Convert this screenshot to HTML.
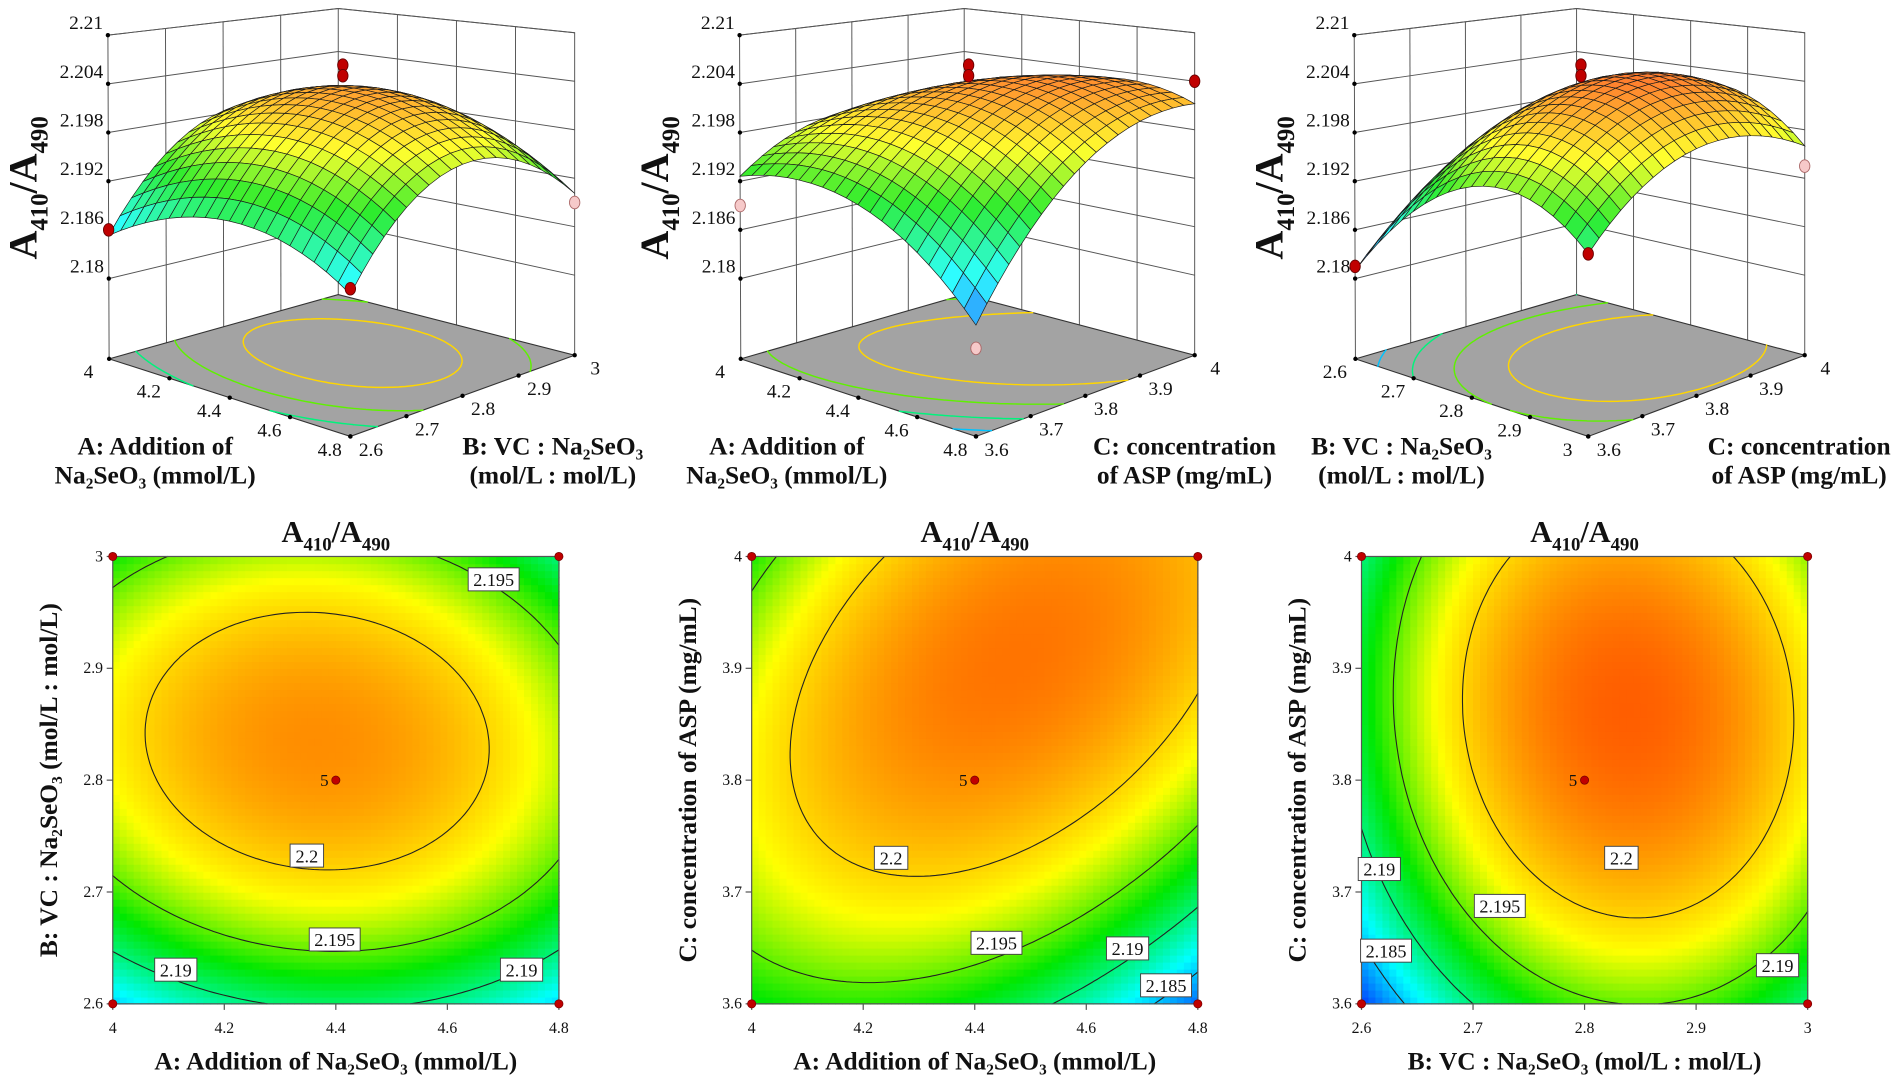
<!DOCTYPE html>
<html><head><meta charset="utf-8"><title>Response surface plots</title>
<style>
html,body{margin:0;padding:0;background:#fff;}
svg{display:block;font-family:"Liberation Serif",serif;}
</style></head>
<body>
<svg id="fig" xmlns="http://www.w3.org/2000/svg" width="1901" height="1083" viewBox="0 0 1568 893.3" preserveAspectRatio="none"></svg>
<script>
// ---------- data ----------
const ticksA = [4, 4.2, 4.4, 4.6, 4.8];
const ticksB = [2.6, 2.7, 2.8, 2.9, 3];
const ticksC = [3.6, 3.7, 3.8, 3.9, 4];
const ticksZ = [2.18, 2.186, 2.192, 2.198, 2.204, 2.21];
// quadratic model coefficients (coded units): b0, b1, b2, b12, b11, b22
const coefAB = [2.2027, -0.0007, 0.0031, -0.00084, -0.00506, -0.00908];
const coefAC = [2.2028, -0.00067, 0.00498, 0.00452, -0.005, -0.0054];
const coefBC = [2.204, 0.00375, 0.00375, -0.00075, -0.009, -0.00575];
const levelsAB = [2.19, 2.195, 2.2];
const levelsAC = [2.185, 2.19, 2.195, 2.2];
const levelsBC = [2.185, 2.19, 2.195, 2.2];
// contour labels: [x value, y value, level text]
const labelsAB = [[4.683, 2.979, "2.195"], [4.348, 2.732, "2.2"], [4.398, 2.657, "2.195"], [4.113, 2.63, "2.19"], [4.733, 2.63, "2.19"]];
const labelsAC = [[4.25, 3.73, "2.2"], [4.439, 3.654, "2.195"], [4.674, 3.649, "2.19"], [4.743, 3.616, "2.185"]];
const labelsBC = [[2.833, 3.73, "2.2"], [2.724, 3.687, "2.195"], [2.616, 3.72, "2.19"], [2.622, 3.647, "2.185"], [2.973, 3.634, "2.19"]];
// 3D design points: [x, y, response, pink?]
const pointsAB = [[4.4, 2.8, 2.2065, 0], [4.4, 2.8, 2.2052, 0], [4, 2.6, 2.186, 0], [4.8, 2.6, 2.1862, 0], [4.8, 3, 2.189, 1]];
const pointsAC = [[4.4, 3.8, 2.2065, 0], [4.4, 3.8, 2.2052, 0], [4, 3.6, 2.189, 1], [4.8, 4, 2.204, 0], [4.8, 3.6, 2.1797, 1]];
const pointsBC = [[2.8, 3.8, 2.2065, 0], [2.8, 3.8, 2.2052, 0], [2.6, 3.6, 2.1815, 0], [3, 3.6, 2.190, 0], [3, 4, 2.1935, 1]];

const NS = "http://www.w3.org/2000/svg";
const svg = document.getElementById("fig");
function mk(tag, attrs, parent) {
  const e = document.createElementNS(NS, tag);
  for (const k in attrs) e.setAttribute(k, attrs[k]);
  (parent || svg).appendChild(e);
  return e;
}
function model(c, u, v) { const x = 2 * u - 1, y = 2 * v - 1; return c[0] + c[1] * x + c[2] * y + c[3] * x * y + c[4] * x * x + c[5] * y * y; }
const cLo = 2.181, cHi = 2.2072;
function cmapRGB(val) {
  let t = (val - cLo) / (cHi - cLo); t = Math.max(0, Math.min(1, t));
  const st = [[0, 0, 60, 255], [0.22, 0, 255, 255], [0.46, 0, 232, 0], [0.66, 255, 255, 0], [1, 255, 40, 0]];
  for (let i = 0; i < st.length - 1; i++) {
    if (t <= st[i + 1][0]) {
      const f = (t - st[i][0]) / (st[i + 1][0] - st[i][0]);
      return [st[i][1] + f * (st[i + 1][1] - st[i][1]), st[i][2] + f * (st[i + 1][2] - st[i][2]), st[i][3] + f * (st[i + 1][3] - st[i][3])];
    }
  }
  return [255, 40, 0];
}
function cmap(val) { const c = cmapRGB(val); return "rgb(" + c.map(Math.round).join(",") + ")"; }
function cmapLight(val) { const c = cmapRGB(val); return "rgb(" + c.map(x => Math.round(x * 0.82 + 255 * 0.18)).join(",") + ")"; }
function march(c, level0, N) {
  const level = level0 + 1e-9;
  const segs = [];
  const val = (i, j) => model(c, i / N, j / N);
  for (let i = 0; i < N; i++) for (let j = 0; j < N; j++) {
    const cs = [[i, j], [i + 1, j], [i + 1, j + 1], [i, j + 1]];
    const vs = cs.map(p => val(p[0], p[1]));
    const pts = [];
    for (let k = 0; k < 4; k++) {
      const a = vs[k], b = vs[(k + 1) % 4];
      if ((a - level) * (b - level) < 0) {
        const f = (level - a) / (b - a);
        const p = cs[k], q = cs[(k + 1) % 4];
        pts.push([(p[0] + f * (q[0] - p[0])) / N, (p[1] + f * (q[1] - p[1])) / N]);
      }
    }
    if (pts.length >= 2) segs.push([pts[0], pts[1]]);
    if (pts.length === 4) segs.push([pts[2], pts[3]]);
  }
  return segs;
}
function norm(v, ticks) { return (v - ticks[0]) / (ticks[ticks.length - 1] - ticks[0]); }
function textEl(x, y, str, size, anchor, weight, parent) {
  const t = mk("text", { x: x, y: y, "font-size": size, "text-anchor": anchor || "middle", "font-weight": weight || "normal", fill: "#111" }, parent);
  t.textContent = str;
  return t;
}
function ratioTitle(x, y, size, rotate, parent) {
  const t = mk("text", { x: x, y: y, "font-size": size, "text-anchor": "middle", "font-weight": "bold", fill: "#111" }, parent);
  if (rotate) t.setAttribute("transform", "rotate(-90 " + x + " " + y + ")");
  t.appendChild(document.createTextNode("A"));
  const s1 = mk("tspan", { "font-size": size * 0.62, dy: size * 0.28 }, t); s1.textContent = "410";
  const s2 = mk("tspan", { dy: -size * 0.28 }, t); s2.textContent = "/A";
  const s3 = mk("tspan", { "font-size": size * 0.62, dy: size * 0.28 }, t); s3.textContent = "490";
  return t;
}

// ---------- contour plots ----------
function contourPlot(x0, coef, xt, yt, levels, labels, xTitle, yTitle, name) {
  const g = mk("g", {});
  
  
  const y0 = 459, W = 368, H = 369, N = 64;
  const X = u => x0 + u * W, Y = v => y0 + H - v * H;
  const heat = mk("g", {}, g);
  
  
  for (let i = 0; i < N; i++) for (let j = 0; j < N; j++) {
    const r = mk("rect", { x: X(i / N).toFixed(2), y: Y((j + 1) / N).toFixed(2), width: (W / N + 0.6).toFixed(2), height: (H / N + 0.6).toFixed(2), fill: cmap(model(coef, (i + 0.5) / N, (j + 0.5) / N)) }, heat);
    
    
  }
  levels.forEach(lv => {
    const segs = march(coef, lv, 80);
    let d = "";
    segs.forEach(s => { d += "M" + X(s[0][0]).toFixed(1) + " " + Y(s[0][1]).toFixed(1) + "L" + X(s[1][0]).toFixed(1) + " " + Y(s[1][1]).toFixed(1); });
    const p = mk("path", { d: d, stroke: "#222", "stroke-width": 0.9, fill: "none", "stroke-linecap": "round" }, g);
    
    
  });
  const fr = mk("rect", { x: x0, y: y0, width: W, height: H, fill: "none", stroke: "#555", "stroke-width": 1 }, g);
  
  
  labels.forEach(l => {
    const cx = X(norm(l[0], xt)), cy = Y(norm(l[1], yt));
    const w = l[2].length * 7.2 + 6;
    const b = mk("rect", { x: cx - w / 2, y: cy - 10, width: w, height: 19, fill: "#fff", stroke: "#444", "stroke-width": 0.8 }, g);
    
    
    const t = textEl(cx, cy + 5, l[2], 15, "middle", "normal", g);
    
    
  });
  xt.forEach(v => {
    const x = X(norm(v, xt));
    mk("line", { x1: x, y1: y0 + H, x2: x, y2: y0 + H + 5, stroke: "#555" }, g);
    const t = textEl(x, y0 + H + 24, String(v), 13, "middle", "normal", g);
    
    
  });
  yt.forEach(v => {
    const y = Y(norm(v, yt));
    mk("line", { x1: x0 - 5, y1: y, x2: x0, y2: y, stroke: "#555" }, g);
    const t = textEl(x0 - 8, y + 4, String(v), 13, "end", "normal", g);
    
    
  });
  [[0, 0], [1, 0], [0, 1], [1, 1], [0.5, 0.5]].forEach(p => {
    const c = mk("circle", { cx: X(p[0]), cy: Y(p[1]), r: 3.4, fill: "#c00000", stroke: "#700", "stroke-width": 0.6 }, g);
    
    
  });
  const five = textEl(X(0.5) - 6, Y(0.5) + 5, "5", 14, "end", "normal", g);
  
  
  const tt = ratioTitle(x0 + W / 2, 447, 25, false, g);
  
  
  const xtl = textEl(x0 + W / 2, 882, xTitle, 21, "middle", "bold", g);
  
  
  const ytx = x0 - 46, yty = y0 + H / 2;
  const ytl = textEl(ytx, yty, yTitle, 21, "middle", "bold", g);
  ytl.setAttribute("transform", "rotate(-90 " + ytx + " " + yty + ")");
  
  
}
contourPlot(93, coefAB, ticksA, ticksB, levelsAB, labelsAB, "A: Addition of Na₂SeO₃ (mmol/L)", "B: VC : Na₂SeO₃ (mol/L : mol/L)", "contour-plot-ab");
contourPlot(620, coefAC, ticksA, ticksC, levelsAC, labelsAC, "A: Addition of Na₂SeO₃ (mmol/L)", "C: concentration of ASP (mg/mL)", "contour-plot-ac");
contourPlot(1123, coefBC, ticksB, ticksC, levelsBC, labelsBC, "B: VC : Na₂SeO₃ (mol/L : mol/L)", "C: concentration of ASP (mg/mL)", "contour-plot-bc");

// ---------- 3D surface plots ----------
const z0 = 2.1701, z1 = 2.21;
function surfacePlot(lx, sx, coef, ut, vt, pts, uTitle, vTitle, name) {
  const g = mk("g", {});
  
  
  const gx = x => lx + (x - 90) * sx;
  const L = [gx(90), 296], F = [gx(289), 360], R = [gx(474), 293], K = [gx(279), 243];
  const Lt = [gx(89), 29], Ft = [gx(289), 58], Rt = [gx(474), 27], Kt = [gx(279), 7];
  function bil(a, b, c, d, u, v) {
    return [(1 - u) * (1 - v) * a[0] + u * (1 - v) * b[0] + u * v * c[0] + (1 - u) * v * d[0],
            (1 - u) * (1 - v) * a[1] + u * (1 - v) * b[1] + u * v * c[1] + (1 - u) * v * d[1]];
  }
  function P(u, v, w) {
    const b = bil(L, F, R, K, u, v), t = bil(Lt, Ft, Rt, Kt, u, v);
    return [b[0] + w * (t[0] - b[0]), b[1] + w * (t[1] - b[1])];
  }
  const W = z => (z - z0) / (z1 - z0);
  const pl = arr => arr.map(p => p[0].toFixed(1) + "," + p[1].toFixed(1)).join(" ");
  const wall = mk("g", { stroke: "#555", "stroke-width": 0.8, fill: "none" }, g);
  
  
  mk("polyline", { points: pl([L, Lt, Kt, Rt, R]) }, wall);
  mk("polyline", { points: pl([K, Kt]) }, wall);
  ticksZ.forEach(z => { mk("polyline", { points: pl([P(0, 0, W(z)), P(0, 1, W(z)), P(1, 1, W(z))]) }, wall); });
  vt.forEach(v => { const n = norm(v, vt); if (n > 0 && n < 1) mk("polyline", { points: pl([P(0, n, 0), P(0, n, 1)]) }, wall); });
  ut.forEach(u => { const n = norm(u, ut); if (n > 0 && n < 1) mk("polyline", { points: pl([P(n, 1, 0), P(n, 1, 1)]) }, wall); });
  const fl = mk("polygon", { points: pl([L, F, R, K]), fill: "#a3a3a3", stroke: "#333", "stroke-width": 0.9 }, g);
  
  
  [2.185, 2.19, 2.195, 2.2].forEach(lv => {
    const segs = march(coef, lv, 60);
    let d = "";
    segs.forEach(s => { const a = P(s[0][0], s[0][1], 0), b = P(s[1][0], s[1][1], 0); d += "M" + a[0].toFixed(1) + " " + a[1].toFixed(1) + "L" + b[0].toFixed(1) + " " + b[1].toFixed(1); });
    const p = mk("path", { d: d, stroke: cmap(lv), "stroke-width": 1.2, fill: "none", "stroke-linecap": "round" }, g);
    
    
  });
  const N = 20, quads = [];
  for (let i = 0; i < N; i++) for (let j = 0; j < N; j++) {
    const u0 = i / N, u1 = (i + 1) / N, v0 = j / N, v1 = (j + 1) / N;
    const c = [[u0, v0], [u1, v0], [u1, v1], [u0, v1]].map(p => P(p[0], p[1], W(model(coef, p[0], p[1]))));
    quads.push({ key: (v0 + v1) / 2 - (u0 + u1) / 2, c: c, val: model(coef, (u0 + u1) / 2, (v0 + v1) / 2) });
  }
  quads.sort((a, b) => b.key - a.key);
  const sg = mk("g", { stroke: "#1a1a1a", "stroke-width": 0.55 }, g);
  
  
  quads.forEach(q => {
    const p = mk("polygon", { points: pl(q.c), fill: cmapLight(q.val) }, sg);
    
    
  });
  ut.forEach(u => {
    const p = P(norm(u, ut), 0, 0);
    mk("circle", { cx: p[0], cy: p[1], r: 1.8, fill: "#000" }, g);
    const t = textEl(p[0] - 17, p[1] + 16, String(u), 16, "middle", "normal", g);
    
    
  });
  vt.forEach(v => {
    const p = P(1, norm(v, vt), 0);
    mk("circle", { cx: p[0], cy: p[1], r: 1.8, fill: "#000" }, g);
    const t = textEl(p[0] + 17, p[1] + 16, String(v), 16, "middle", "normal", g);
    
    
  });
  ticksZ.forEach(z => {
    const p = P(0, 0, W(z));
    mk("circle", { cx: p[0], cy: p[1], r: 1.8, fill: "#000" }, g);
    const t = textEl(p[0] - 4, p[1] - 5, String(z), 16, "end", "normal", g);
    
    
  });
  pts.forEach(d => {
    const p = P(norm(d[0], ut), norm(d[1], vt), W(d[2]));
    const c = mk("ellipse", { cx: p[0], cy: p[1], rx: 4.3, ry: 5.2, fill: d[3] ? "#f6c9c9" : "#c00000", stroke: d[3] ? "#a66" : "#600", "stroke-width": 0.7 }, g);
    
    
  });
  const zt = ratioTitle(lx - 60, 155, 33, true, g);
  
  
  const ux = lx + 38, vx = lx + 366;
  const a1 = textEl(ux, 375, uTitle[0], 21, "middle", "bold", g);
  
  
  const a2 = textEl(ux, 399, uTitle[1], 21, "middle", "bold", g);
  
  
  const b1 = textEl(vx, 375, vTitle[0], 21, "middle", "bold", g);
  
  
  const b2 = textEl(vx, 399, vTitle[1], 21, "middle", "bold", g);
  
  
}
surfacePlot(90, 1, coefAB, ticksA, ticksB, pointsAB, ["A: Addition of", "Na₂SeO₃ (mmol/L)"], ["B: VC : Na₂SeO₃", "(mol/L : mol/L)"], "surface-plot-ab");
surfacePlot(611, 0.975, coefAC, ticksA, ticksC, pointsAC, ["A: Addition of", "Na₂SeO₃ (mmol/L)"], ["C: concentration", "of ASP (mg/mL)"], "surface-plot-ac");
surfacePlot(1118, 0.965, coefBC, ticksB, ticksC, pointsBC, ["B: VC : Na₂SeO₃", "(mol/L : mol/L)"], ["C: concentration", "of ASP (mg/mL)"], "surface-plot-bc");
</script>
</body></html>
